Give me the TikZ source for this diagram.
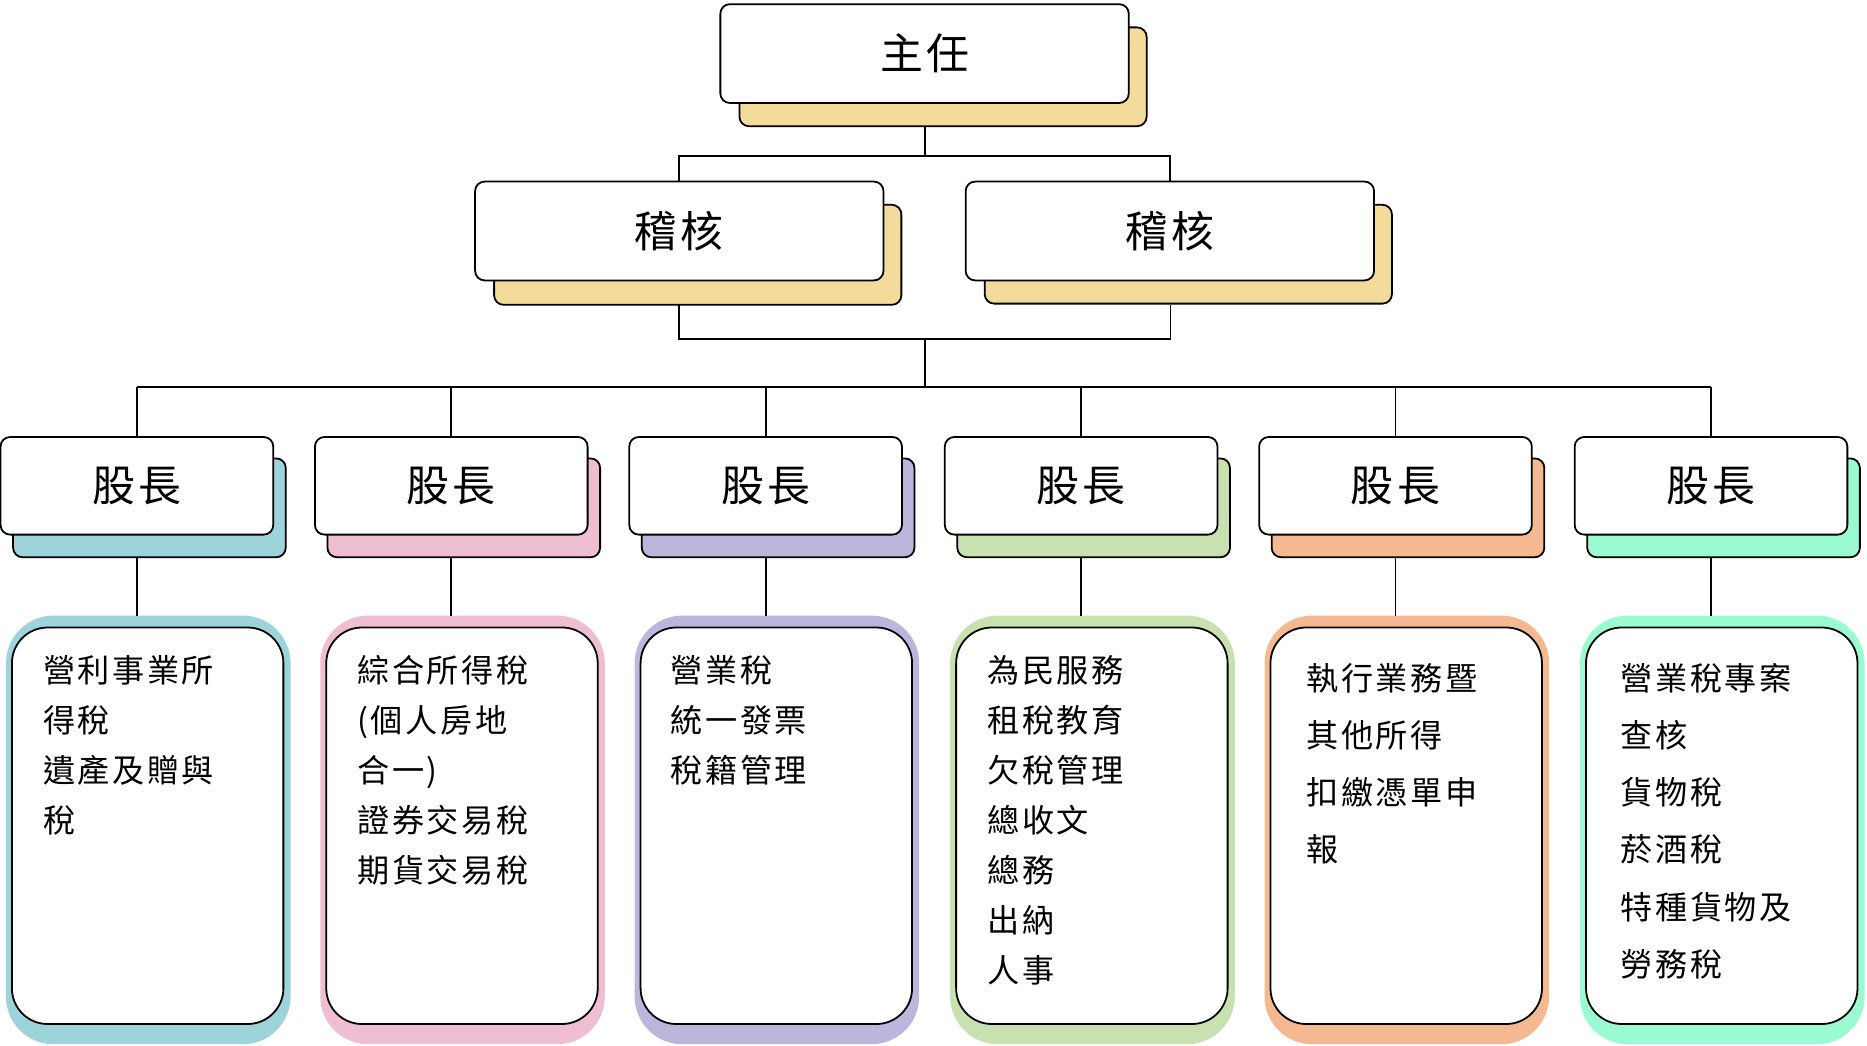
\documentclass[tikz,border=0pt]{standalone}
\usepackage{fontspec}
\newfontfamily\cjk[LetterSpace=8]{Noto Sans CJK TC}
\definecolor{tan}{HTML}{F3DC9B}
\definecolor{cA}{HTML}{9DD3DB}
\definecolor{cB}{HTML}{F0BED3}
\definecolor{cC}{HTML}{BDB6DC}
\definecolor{cD}{HTML}{C9E0B0}
\definecolor{cE}{HTML}{F4B990}
\definecolor{cF}{HTML}{9AFBD0}
\begin{document}
\begin{tikzpicture}[x=1pt,y=-1pt,
  front/.style={draw=black,line width=1.5pt,fill=white,rounded corners=8pt,minimum height=83pt,inner sep=0pt,font=\cjk\fontsize{36}{40}\selectfont},
  shad/.style={draw=black,line width=1.5pt,rounded corners=8pt,inner sep=0pt},
  conn/.style={line width=1.5pt},
  body/.style={font=\cjk\fontsize{27}{42}\selectfont,align=left,anchor=north west,inner sep=0pt}]
\useasboundingbox (0,0) rectangle (1568,878);
% top
\draw[shad,fill=tan] (621,23) rectangle (963,106);
\node[front,minimum width=343pt] (top) at (776.5,45) {主任};
\draw[shad,fill=tan] (415,172) rectangle (757,256);
\node[front,minimum width=343pt] (s1) at (570.5,194) {稽核};
\draw[shad,fill=tan] (827,172) rectangle (1169,255);
\node[front,minimum width=343pt] (s2) at (982.5,194) {稽核};
\coordinate (tb) at (777,106);
\draw[conn] (tb) -- (777,131) -| (s1.north);
\draw[conn] (777,131) -| (s2.north);
\coordinate (s1b) at (570,256);
\coordinate (s2b) at (983,256);
\draw[conn] (s1b) |- (777,285) -| (s2b);
\draw[conn] (777,285) -- (777,325);
\draw[conn] (115,325) -- (1437,325);
\foreach \cx/\col/\n in {115/cA/1,379/cB/2,643/cC/3,908/cD/4,1172/cE/5,1437/cF/6}{
  \draw[shad,fill=\col] (\cx-104,385) rectangle (\cx+125,468);
  \node[front,minimum width=229pt,minimum height=82pt] (g\n) at (\cx,408) {股長};
  \draw[conn] (\cx,325) -- (g\n.north);
  \fill[\col,rounded corners=40pt] (\cx-110,517) rectangle (\cx+129,877);
  \draw[line width=1.5pt,fill=white,rounded corners=30pt] (\cx-105,527) rectangle (\cx+123,860);
  \coordinate (b\n) at (\cx,517);
  \draw[conn] (\cx,468) -- (b\n);
}
\node[body] (t1) at (36,550) {營利事業所\\得稅\\遺產及贈與\\稅};
\node[body] (t2) at (300,550) {綜合所得稅\\(個人房地\\合一)\\證券交易稅\\期貨交易稅};
\node[body] (t3) at (563,550) {營業稅\\統一發票\\稅籍管理};
\node[body] (t4) at (829,550) {為民服務\\租稅教育\\欠稅管理\\總收文\\總務\\出納\\人事};
\node[body,font=\cjk\fontsize{27}{48}\selectfont] (t5) at (1097,557) {執行業務暨\\其他所得\\扣繳憑單申\\報};
\node[body,font=\cjk\fontsize{27}{48}\selectfont] (t6) at (1361,557) {營業稅專案\\查核\\貨物稅\\菸酒稅\\特種貨物及\\勞務稅};
\end{tikzpicture}
\end{document}
